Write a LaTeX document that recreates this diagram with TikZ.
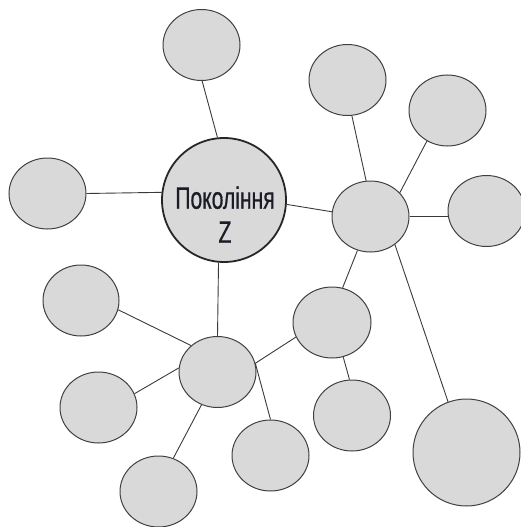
\documentclass[tikz,border=0pt]{standalone}
\usepackage{fontspec}
\usetikzlibrary{shapes.geometric}
\newfontfamily\zfont{Liberation Sans}[FakeStretch=0.68,FakeBold=0.6]
\definecolor{bubfill}{HTML}{D9D9D9}
\definecolor{bubline}{HTML}{404040}
\definecolor{linkc}{HTML}{3A3A3A}
\definecolor{txtc}{HTML}{1C1C28}
\begin{document}
\begin{tikzpicture}[x=1pt,y=-1pt,
  bub/.style={ellipse, draw=bubline, fill=bubfill, line width=1pt, inner sep=0pt,
              minimum width=77pt, minimum height=71pt},
  hub/.style={circle, draw=black!85, fill=bubfill, line width=1.8pt, inner sep=0pt,
              minimum size=124pt},
  link/.style={draw=linkc, line width=0.9pt},
  ztext/.style={font=\zfont\fontsize{31}{34}\selectfont, text=txtc, align=center, inner sep=0pt}]
\useasboundingbox (0,0) rectangle (520,527);
% nodes
\node[hub] (Z) at (224,200) {};
\node[ztext] (zt) at (225,214.5) {Покоління\\Z};
\node[bub] (top) at (201.5,45) {};
\node[bub] (left) at (47.5,193.5) {};
\node[bub] (A) at (347.5,80) {};
\node[bub] (B) at (447.5,110.5) {};
\node[bub] (RH) at (370.5,216.5) {};
\node[bub] (C) at (486.5,211) {};
\node[bub, minimum width=78pt] (G) at (332,322.5) {};
\node[bub] (H) at (352,415.5) {};
\node[bub, minimum width=107pt, minimum height=107pt] (J) at (466.5,452.5) {};
\node[bub] (BH) at (217.5,372) {};
\node[bub, minimum width=76pt] (D) at (81,300.5) {};
\node[bub] (E) at (98.5,407.5) {};
\node[bub] (F) at (158.5,491.5) {};
\node[bub] (I) at (270.5,455.5) {};
% connectors
\draw[link] (top.-89) -- (Z.96);
\draw[link] (left.east) -- (Z.173.5);
\draw[link] (Z.-4.5) -- (RH.173);
\draw[link] (Z.-95.5) -- (BH.north);
\draw[link] (A.-83) -- (RH.97);
\draw[link] (B.-124) -- (RH.39.5);
\draw[link] (RH.east) -- (RH.east -| C.west);
\draw[link] (RH.-111) -- (G.73);
\draw[link] (RH.-49) -- (J.110.5);
\draw[link] (G.-158.6) -- (BH.13.7);
\draw[link] (G.-72.3) -- (H.94.8);
\draw[link] (BH.13.7) -- (I.north);
\draw[link] (BH.135.5) -- (D.-14);
\draw[link] (BH.174) -- (E.21.7);
\draw[link] (BH.-116.6) -- (F.66.6);
\end{tikzpicture}
\end{document}
